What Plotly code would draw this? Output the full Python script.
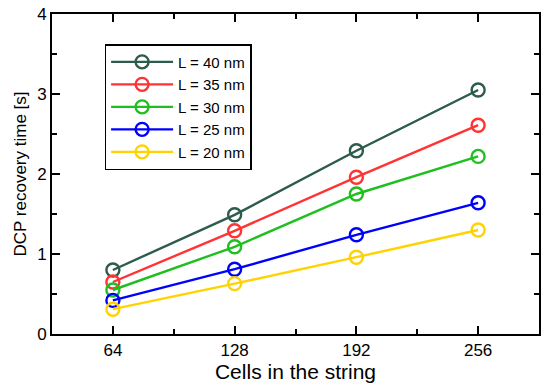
import plotly.graph_objects as go

# Number of cells in the string
cells = [64, 128, 192, 256]

# DCP recovery time [s] for each cell length
t_40nm = [0.80, 1.49, 2.29, 3.05]
t_35nm = [0.65, 1.29, 1.96, 2.61]
t_30nm = [0.55, 1.09, 1.75, 2.22]
t_25nm = [0.42, 0.81, 1.24, 1.64]
t_20nm = [0.31, 0.63, 0.96, 1.30]

series_names = ["L = 40 nm", "L = 35 nm", "L = 30 nm", "L = 25 nm", "L = 20 nm"]
series_values = [t_40nm, t_35nm, t_30nm, t_25nm, t_20nm]
series_colors = ["#2e5c4c", "#ff3333", "#1fbf1f", "#0000ff", "#ffd200"]

x_tick_vals = [64, 128, 192, 256]
x_tick_text = ["64", "128", "192", "256"]
y_tick_vals = [0, 1, 2, 3, 4]

fig = go.Figure()
for name, vals, col in zip(series_names, series_values, series_colors):
    fig.add_trace(go.Scatter(
        x=cells, y=vals, name=name, mode="lines+markers",
        line=dict(color=col, width=2.4),
        marker=dict(symbol="circle-open", size=13, color=col,
                    line=dict(color=col, width=2.4)),
    ))

axis_common = dict(
    showline=True, linecolor="black", linewidth=2, mirror="allticks",
    ticks="inside", ticklen=8, tickwidth=2, tickcolor="black",
    showgrid=False, zeroline=False,
    tickfont=dict(family="Liberation Sans, Arial, sans-serif", size=17, color="black"),
)

fig.update_layout(
    width=542, height=390,
    margin=dict(l=52, r=1, t=14, b=56),
    paper_bgcolor="white", plot_bgcolor="white",
    font=dict(family="Liberation Sans, Arial, sans-serif", color="black"),
    xaxis=dict(
        range=[32, 288], tickvals=x_tick_vals, ticktext=x_tick_text,
        title=dict(text="Cells in the string", font=dict(size=21), standoff=4),
        minor=dict(ticks="inside", ticklen=5, tickwidth=2, tickcolor="black",
                   tick0=32, dtick=64),
        **axis_common,
    ),
    yaxis=dict(
        range=[0, 4], tickvals=y_tick_vals,
        title=dict(text="DCP recovery time [s]", font=dict(size=17), standoff=6),
        minor=dict(ticks="inside", ticklen=5, tickwidth=2, tickcolor="black",
                   dtick=0.5),
        **axis_common,
    ),
    legend=dict(
        x=0.108, y=0.906, xanchor="left", yanchor="top",
        bordercolor="black", borderwidth=1.5, bgcolor="white",
        font=dict(size=15), tracegroupgap=0, itemwidth=62,
    ),
)

fig.write_html("out.html")
